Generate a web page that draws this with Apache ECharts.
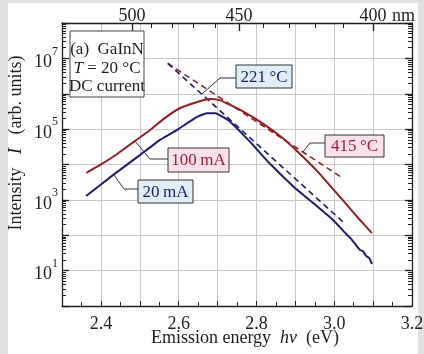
<!DOCTYPE html>
<html>
<head>
<meta charset="utf-8">
<script src="https://cdn.jsdelivr.net/npm/echarts@6/dist/echarts.min.js"></script>
<style>
html, body { margin: 0; padding: 0; }
#wrap { position: relative; width: 424px; height: 354px; background: #e1e1e1; }
#paper { position: absolute; left: 8px; top: 3px; width: 410px; height: 351px; background: #fff; }
#chart { position: absolute; left: 0; top: 0; width: 424px; height: 354px; }
</style>
</head>
<body>
<div id="wrap"><div id="paper"></div><div id="chart"></div></div>
<script>
// 100 mA spectrum (eV, arb. units)
var energy100 = [2.362, 2.397, 2.441, 2.487, 2.526, 2.564, 2.603, 2.646, 2.680, 2.705, 2.723, 2.764, 2.815, 2.867, 2.910, 2.954, 2.995, 3.031, 3.064, 3.097];
var intensity100 = [5750, 9550, 19500, 45700, 93300, 204000, 389000, 575000, 708000, 661000, 537000, 324000, 148000, 56200, 20900, 6920, 2140, 759, 288, 115];

// 20 mA spectrum
var energy20 = [2.362, 2.431, 2.500, 2.551, 2.595, 2.646, 2.672, 2.695, 2.710, 2.731, 2.782, 2.833, 2.897, 2.946, 2.997, 3.031, 3.044, 3.056, 3.067, 3.074, 3.082, 3.090, 3.097];
var intensity20 = [1280, 5010, 18400, 49000, 93800, 218000, 282000, 282000, 233000, 168000, 45700, 11000, 2290, 813, 269, 108, 78, 53, 38, 35.5, 26, 22.7, 15.4];

// Boltzmann tail fits (dashed)
var fit221Energy = [2.572, 3.023];
var fit221Intensity = [7.2e6, 236];
var fit415Energy = [2.572, 3.021];
var fit415Intensity = [7.2e6, 4170];

// axis ticks
var energyMin = 2.3, energyMax = 3.2;
var wavelengthLabels = [500, 450, 400];
var wavelengthTicks = [500, 490, 480, 470, 460, 450, 440, 430, 420, 410, 400];

var serifName = '"Liberation Serif", "DejaVu Serif", serif';
var red = '#9a1b1e';
var blue = '#1b1b78';
var ink = '#1e1e1e';

function pairs(xs, ys) {
	return xs.map(function (x, i) { return [x, ys[i]]; });
}
function nmToEv(nm) { return 1239.84 / nm; }
function f(size, italic) { return (italic ? 'italic ' : '') + size + 'px ' + serifName; }

var minorDecades = [];
for (var n = 0; n < 8; n++) {
	for (var k = 2; k <= 9; k++) minorDecades.push(k * Math.pow(10, n));
}

var chart = echarts.init(document.getElementById('chart'), null, { renderer: 'canvas' });

var frame = { show: true, onZero: false, lineStyle: { color: ink, width: 1.3 } };
var gridLine = { show: true, lineStyle: { color: '#c9c9c9', width: 1 } };

function box(x, y, w, h, text, fill, color) {
	return {
		type: 'group',
		children: [
			{ type: 'rect', shape: { x: x, y: y, width: w, height: h },
			  style: { fill: fill, stroke: '#333', lineWidth: 1 }, z: 10 },
			{ type: 'text', x: x + w / 2, y: y + h / 2 + 1, z: 11,
			  style: { text: text, fill: color, font: f(17), align: 'center', verticalAlign: 'middle' } }
		]
	};
}
function leader(points, color) {
	return { type: 'polyline', shape: { points: points }, z: 9,
		style: { stroke: color, lineWidth: 1, fill: null } };
}
var titleRich = {
	n: { font: f(18), fill: ink },
	i: { font: f(18, true), fill: ink }
};

var option = {
	animation: false,
	backgroundColor: 'transparent',
	grid: { left: 62, right: 12, top: 23, bottom: 48, outerBoundsMode: 'none' },
	xAxis: [
		{
			type: 'value', position: 'bottom', min: energyMin, max: energyMax, interval: 0.1,
			axisLine: frame,
			axisTick: { inside: true, length: 5, lineStyle: { color: ink } },
			minorTick: { show: true, splitNumber: 2, length: 4, lineStyle: { color: ink } },
			axisLabel: {
				color: ink, fontFamily: serifName, fontSize: 18, margin: 9,
				formatter: function (v) {
					return Math.round(v * 10) % 2 === 0 ? v.toFixed(1) : '';
				}
			},
			splitLine: gridLine
		},
		{
			type: 'value', position: 'top', min: energyMin, max: energyMax,
			axisLine: frame,
			axisTick: { inside: true, length: 5, customValues: wavelengthTicks.map(nmToEv), lineStyle: { color: ink } },
			axisLabel: {
				color: ink, fontFamily: serifName, fontSize: 18, margin: -2,
				customValues: wavelengthLabels.map(nmToEv),
				formatter: function (v) { return String(Math.round(1239.84 / v)); }
			},
			splitLine: { show: false }
		},
		{
			type: 'value', position: 'top', min: energyMin, max: energyMax,
			axisLine: { show: false },
			axisTick: { inside: true, length: 8, customValues: wavelengthLabels.map(nmToEv), lineStyle: { color: ink, width: 1.3 } },
			axisLabel: { show: false },
			splitLine: { show: false }
		}
	],
	yAxis: [
		{
			type: 'log', logBase: 10, min: 1, max: 1e8, interval: 1, position: 'left',
			axisLine: frame,
			axisTick: { inside: true, length: 7, lineStyle: { color: ink, width: 1.3 } },
			axisLabel: {
				color: ink, fontFamily: serifName, margin: 4,
				formatter: function (v) {
					var e = Math.round(Math.log10(v));
					return e % 2 === 1 ? '{b|10}{s|' + e + '}' : '';
				},
				rich: {
					b: { fontFamily: serifName, fontSize: 18, color: ink, lineHeight: 26, verticalAlign: 'bottom' },
					s: { fontFamily: serifName, fontSize: 12, color: ink, lineHeight: 26, verticalAlign: 'top' }
				}
			},
			splitLine: gridLine
		},
		{
			type: 'log', logBase: 10, min: 1, max: 1e8, interval: 1, position: 'right',
			axisLine: frame,
			axisTick: { inside: true, length: 7, lineStyle: { color: ink, width: 1.3 } },
			axisLabel: { show: false },
			splitLine: { show: false }
		},
		{
			type: 'log', logBase: 10, min: 1, max: 1e8, position: 'left',
			axisLine: { show: false },
			axisTick: { inside: true, length: 4, customValues: minorDecades, lineStyle: { color: ink } },
			axisLabel: { show: false },
			splitLine: { show: false }
		},
		{
			type: 'log', logBase: 10, min: 1, max: 1e8, position: 'right',
			axisLine: { show: false },
			axisTick: { inside: true, length: 4, customValues: minorDecades, lineStyle: { color: ink } },
			axisLabel: { show: false },
			splitLine: { show: false }
		}
	],
	series: [
		{ name: '415 °C fit', type: 'line', data: pairs(fit415Energy, fit415Intensity), symbol: 'none',
		  lineStyle: { color: red, width: 1.6, type: [6, 4] }, z: 3 },
		{ name: '221 °C fit', type: 'line', data: pairs(fit221Energy, fit221Intensity), symbol: 'none',
		  lineStyle: { color: blue, width: 1.6, type: [6, 4] }, z: 3 },
		{ name: '100 mA', type: 'line', data: pairs(energy100, intensity100), symbol: 'none', smooth: 0.15,
		  lineStyle: { color: red, width: 2 }, z: 4 },
		{ name: '20 mA', type: 'line', data: pairs(energy20, intensity20), symbol: 'none', smooth: 0.1,
		  lineStyle: { color: blue, width: 2 }, z: 4 }
	],
	graphic: [
		{ type: 'text', x: 392, y: 25, style: { text: 'nm', fill: ink, font: f(18), align: 'left', verticalAlign: 'bottom' } },
		{
			type: 'text', x: 245, y: 338,
			style: {
				text: '{n|Emission energy}{n|  }{i|hν}{n|  (eV)}', align: 'center', verticalAlign: 'middle',
				rich: titleRich, font: f(18), fill: ink
			}
		},
		{
			type: 'text', x: 16, y: 143, rotation: Math.PI / 2,
			style: {
				text: '{n|Intensity\u2002 }{i|I}{n|\u2002 (arb. units)}', align: 'center', verticalAlign: 'middle',
				rich: titleRich, font: f(18), fill: ink
			}
		},
		{ type: 'rect', shape: { x: 70, y: 31, width: 74, height: 66 }, z: 10,
		  style: { fill: '#fff', stroke: '#444', lineWidth: 1 } },
		{ type: 'text', x: 107, y: 50, z: 11, style: { text: '(a)  GaInN', fill: ink, font: f(17), align: 'center', verticalAlign: 'middle' } },
		{ type: 'text', x: 107, y: 69, z: 11, style: { text: '{i|T}{n| = 20 °C}', fill: ink, font: f(17), align: 'center', verticalAlign: 'middle',
			rich: { i: { font: f(17, true), fill: ink }, n: { font: f(17), fill: ink } } } },
		{ type: 'text', x: 107, y: 87, z: 11, style: { text: 'DC current', fill: ink, font: f(17), align: 'center', verticalAlign: 'middle' } },

		leader([[202, 94], [220, 78], [236, 78]], '#2a2a55'),
		leader([[302, 153], [310, 143], [325, 143]], '#552a2a'),
		leader([[135, 141], [150, 159], [168, 159]], '#333'),
		leader([[114, 175], [124, 189], [138, 189]], '#333'),
		box(236, 65, 56, 23, '221\u2009°C', '#dfeef8', blue),
		box(325, 135, 59, 22, '415\u2009°C', '#fbe1ea', '#a31c30'),
		box(168, 148, 61, 24, '100\u2009mA', '#fbe1ea', '#a31c30'),
		box(138, 180, 55, 23, '20\u2009mA', '#dfeef8', blue)
	]
};

chart.setOption(option);
</script>
</body>
</html>
